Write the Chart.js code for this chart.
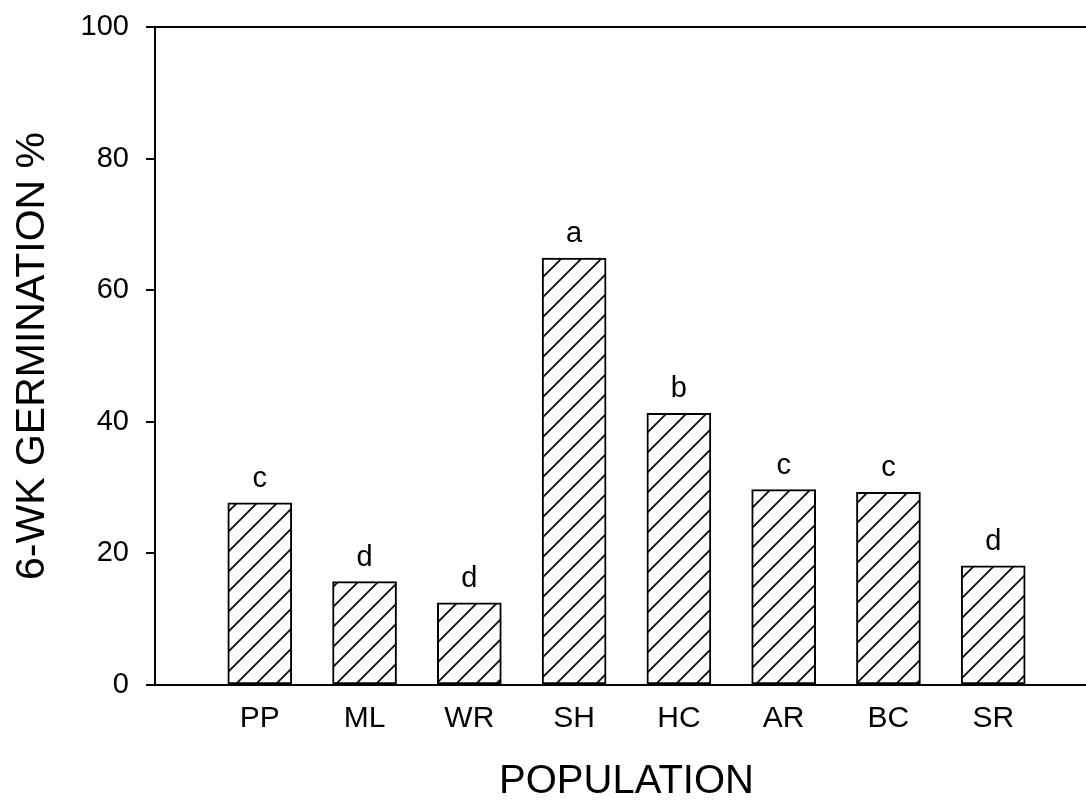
<!DOCTYPE html>
<html>
<head>
<meta charset="utf-8">
<script src="https://cdn.jsdelivr.net/npm/chart.js@4.4.0/dist/chart.umd.min.js"></script>
<style>
  html, body { margin: 0; padding: 0; background: #fff; overflow: hidden; }
  #wrap { width: 1098px; height: 800px; }
</style>
</head>
<body>
<div id="wrap"><canvas id="grafica"></canvas></div>
<script>
// Datos del gráfico
const poblaciones = ['PP', 'ML', 'WR', 'SH', 'HC', 'AR', 'BC', 'SR'];
const germinacion = [27.7, 15.7, 12.5, 64.9, 41.3, 29.7, 29.3, 18.1];
const letras = ['c', 'd', 'd', 'a', 'b', 'c', 'c', 'd'];
const ticksY = [0, 20, 40, 60, 80, 100];

const fuente = "'Liberation Sans', Arial, sans-serif";

// patrón rayado "/"
function crearRayado() {
    const c = document.createElement('canvas');
    c.width = 20;
    c.height = 20;
    const g = c.getContext('2d');
    g.fillStyle = '#fff';
    g.fillRect(0, 0, 20, 20);
    g.strokeStyle = '#000';
    g.lineWidth = 1.7;
    g.beginPath();
    g.moveTo(-2, 22); g.lineTo(22, -2);
    g.moveTo(-2, 2); g.lineTo(2, -2);
    g.moveTo(18, 22); g.lineTo(22, 18);
    g.stroke();
    return g.createPattern(c, 'repeat');
}

// letras encima de cada barra
const letrasPlugin = {
    id: 'letras',
    afterDatasetsDraw(chart) {
        const ctx = chart.ctx;
        const meta = chart.getDatasetMeta(0);
        ctx.save();
        ctx.fillStyle = '#000';
        ctx.font = '29px ' + fuente;
        ctx.textAlign = 'center';
        ctx.textBaseline = 'alphabetic';
        meta.data.forEach((bar, i) => {
            ctx.fillText(letras[i], bar.x, bar.y - 16);
        });
        ctx.restore();
    }
};

const ctx = document.getElementById('grafica').getContext('2d');
new Chart(ctx, {
    type: 'bar',
    data: {
        datasets: [{
            data: germinacion.map((v, i) => ({ x: i, y: v })),
            backgroundColor: crearRayado(),
            borderColor: '#000',
            borderWidth: 2,
            borderSkipped: false,
            barThickness: 64
        }]
    },
    options: {
        responsive: true,
        maintainAspectRatio: false,
        animation: false,
        layout: { padding: { top: 27, right: 0, bottom: 0, left: 0 } },
        plugins: {
            legend: { display: false },
            tooltip: { enabled: false }
        },
        scales: {
            x: {
                type: 'linear',
                offset: false,
                min: -1,
                max: 8,
                afterBuildTicks: (scale) => {
                    scale.ticks = poblaciones.map((p, i) => ({ value: i }));
                },
                afterFit: (scale) => {
                    scale.height = 115;
                    scale.paddingLeft = 0;
                    scale.paddingRight = 0;
                },
                grid: { display: false },
                border: { display: true, color: '#000', width: 2 },
                ticks: {
                    color: '#000',
                    font: { family: fuente, size: 30 },
                    padding: 8,
                    maxRotation: 0,
                    autoSkip: false,
                    callback: (v) => poblaciones[v]
                },
                title: {
                    display: true,
                    text: 'POPULATION',
                    color: '#000',
                    font: { family: fuente, size: 40, lineHeight: 0.9 },
                    padding: { top: 0, bottom: 0 }
                }
            },
            y: {
                min: 0,
                max: 100,
                afterBuildTicks: (scale) => {
                    scale.ticks = ticksY.map(v => ({ value: v }));
                },
                afterFit: (scale) => {
                    scale.width = 155;
                    scale.paddingTop = 0;
                    scale.paddingBottom = 0;
                },
                grid: {
                    color: (c) => (c.tick && c.tick.value === 100) ? '#000' : 'rgba(0,0,0,0)',
                    tickColor: '#000',
                    lineWidth: 2,
                    tickLength: 9
                },
                border: { display: true, color: '#000', width: 2 },
                ticks: {
                    color: '#000',
                    font: { family: fuente, size: 29 },
                    padding: 17
                },
                title: {
                    display: true,
                    text: '6-WK GERMINATION %',
                    color: '#000',
                    font: { family: fuente, size: 41, lineHeight: 1 },
                    padding: { top: 12, bottom: 0 }
                }
            }
        }
    },
    plugins: [letrasPlugin]
});
</script>
</body>
</html>
